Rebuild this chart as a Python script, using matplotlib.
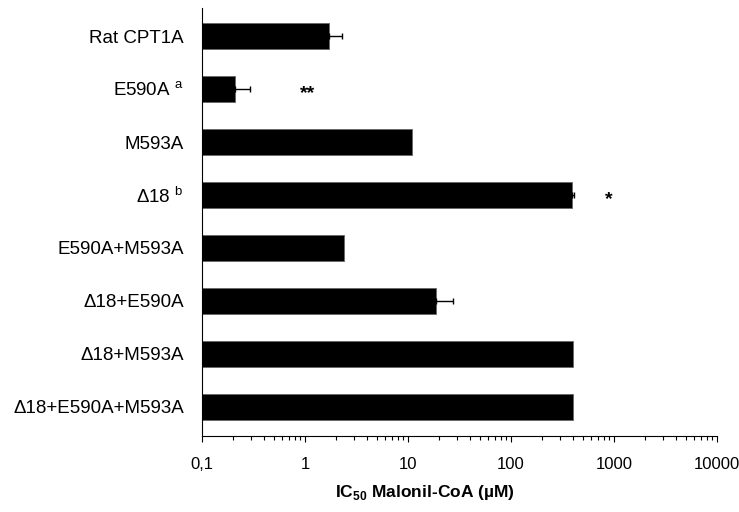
import matplotlib
matplotlib.use("Agg")
import matplotlib.pyplot as plt
from matplotlib.ticker import FixedLocator, LogLocator, NullFormatter

plt.rcParams['font.family'] = ['Liberation Sans', 'DejaVu Sans']
plt.rcParams['mathtext.fontset'] = 'custom'
plt.rcParams['mathtext.rm'] = 'Liberation Sans'
plt.rcParams['mathtext.bf'] = 'Liberation Sans:bold'

# data (IC50, uM)
constructs = ["Rat CPT1A", r"E590A $^{\mathrm{a}}$", "M593A", r"Δ18 $^{\mathrm{b}}$",
              "E590A+M593A", "Δ18+E590A", "Δ18+M593A", "Δ18+E590A+M593A"]
ic50 = [1.71, 0.21, 11.0, 387, 2.39, 18.8, 400, 400]
err = [0.56, 0.08, 0, 20, 0, 8.6, 0, 0]
tick_vals = [0.1, 1, 10, 100, 1000, 10000]
tick_labels = ["0,1", "1", "10", "100", "1000", "10000"]
stars = [("**", 1.05, 1), ("*", 893, 3)]

fig = plt.figure(figsize=(7.39, 5.12), dpi=100)
ax = fig.add_axes([202/739, 1-436/512, (717-202)/739, (436-8)/512])

ypos = list(range(len(constructs)))
ax.barh(ypos, ic50, height=0.5, color='black', edgecolor='#666666', linewidth=0.6)

# only the bars that have an error bar
ex = [v for v, e in zip(ic50, err) if e > 0]
ey = [y for y, e in zip(ypos, err) if e > 0]
ee = [e for e in err if e > 0]
ax.errorbar(ex, ey, xerr=[[0]*len(ee), ee], fmt='none', ecolor='black',
            elinewidth=1.0, capsize=2.5, capthick=1.0)

ax.set_xscale('log')
ax.set_xlim(0.1, 10000)
ax.set_ylim(7.55, -0.53)
ax.xaxis.set_major_locator(FixedLocator(tick_vals))
ax.set_xticklabels(tick_labels)
ax.xaxis.set_minor_locator(LogLocator(base=10, subs=range(2, 10)))
ax.xaxis.set_minor_formatter(NullFormatter())
ax.tick_params(axis='x', which='major', length=4, width=0.8, pad=11, labelsize=12)
ax.tick_params(axis='x', which='minor', length=3, width=0.8)

ax.set_yticks(ypos)
ax.set_yticklabels(constructs, fontsize=13.5)
ax.tick_params(axis='y', length=0, pad=13)

for s in ['top', 'right']:
    ax.spines[s].set_visible(False)
for s in ['left', 'bottom']:
    ax.spines[s].set_linewidth(0.8)

for txt, xv, yv in stars:
    ax.text(xv, yv + 0.08, txt, ha='center', va='center', fontsize=14, fontweight='bold')

fig.text(425/739, 1-493/512, r"IC$_{\mathbf{50}}$ Malonil-CoA (µM)", ha='center', va='center',
         fontsize=12.5, fontweight='bold')

fig.savefig("out.png", dpi=100)
